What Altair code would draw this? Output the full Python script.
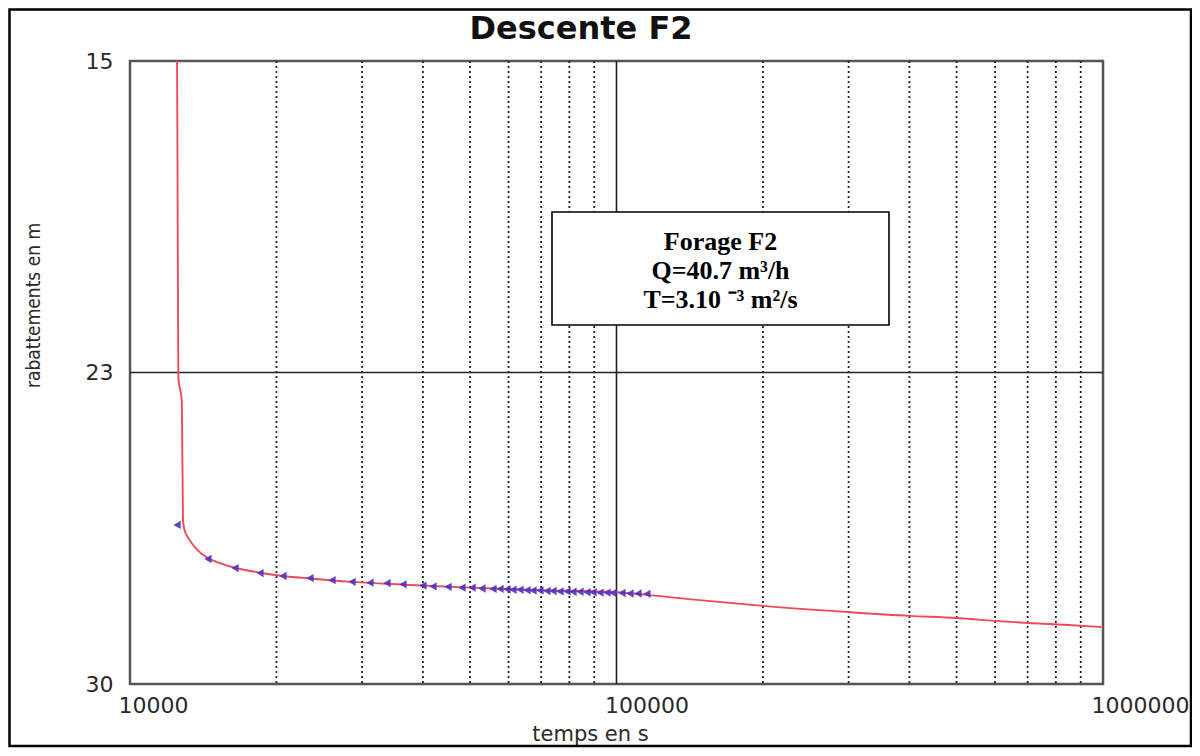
import altair as alt
import pandas as pd

# ---------------- data ----------------
# fitted curve (red): time in s, drawdown in m
curve_t = [12494, 12510, 12570, 12780, 12850, 12950, 13200, 13700, 14463, 15400,
           16438, 18504, 20627, 23442, 28600, 36760, 50000, 70000, 100000, 117000,
           148000, 200000, 300000, 400000, 500000, 600000, 700000, 850000, 1000000]
curve_s = [15.0, 16.3, 22.6, 23.2, 26.05, 26.3, 26.5, 26.75, 26.97, 27.1,
           27.2, 27.32, 27.40, 27.46, 27.54, 27.61, 27.68, 27.74, 27.79, 27.86,
           27.98, 28.12, 28.27, 28.36, 28.41, 28.48, 28.53, 28.58, 28.63]

# observed drawdown (markers)
obs_t = [12494, 14463, 16438, 18504, 20627, 23442, 26015, 28600, 31140, 33760,
         36400, 40000, 41960, 45040, 48120, 50470, 52910, 55740, 57620, 59560,
         61270, 63330, 65460, 67360, 69630, 71960, 74040, 76530, 79110, 81390,
         84140, 86970, 89470, 92500, 95610, 98360, 102640, 106600, 110700, 115500]
obs_s = [26.17, 26.99, 27.21, 27.33, 27.40, 27.45, 27.50, 27.54, 27.56, 27.57,
         27.60, 27.63, 27.65, 27.66, 27.68, 27.68, 27.70, 27.71, 27.71, 27.72,
         27.73, 27.73, 27.74, 27.75, 27.75, 27.76, 27.76, 27.77, 27.77, 27.78,
         27.78, 27.79, 27.79, 27.80, 27.80, 27.81, 27.81, 27.82, 27.82, 27.83]

grid_dotted = [20000, 30000, 40000, 50000, 60000, 70000, 80000, 90000,
               200000, 300000, 400000, 500000, 600000, 700000, 800000, 900000]
grid_solid_x = [100000]
grid_solid_y = [22.5]

x_ticks = [10000, 100000, 1000000]
y_ticks = [15, 22.5, 30]

title_text = "Descente F2"
x_title = "temps en s"
y_title = "rabattements en m"
box_lines = ["Forage F2", "Q=40.7 m³/h", "T=3.10 ⁻³ m²/s"]

# ---------------- chart ----------------
W, H = 973, 623

xs = alt.Scale(type="log", domain=[10000, 1000000], nice=False)
ys = alt.Scale(domain=[15, 30], reverse=True, nice=False, zero=False)

x_axis = alt.Axis(values=x_ticks, format="d", grid=False, ticks=False, tickSize=0,
                  domain=False, labelFont="DejaVu Sans", labelFontSize=22,
                  labelColor="#2a2a2a", labelAlign="left", labelOffset=-12,
                  labelBaseline="top", labelPadding=11, labelFlush=False,
                  labelOverlap=False,
                  title=x_title, titleFont="DejaVu Sans", titleFontSize=21,
                  titleFontWeight="normal", titleColor="#2a2a2a",
                  titleX=460, titleY=50, titleAlign="center", titleBaseline="middle")

y_axis = alt.Axis(values=y_ticks, grid=False, ticks=False, tickSize=0, domain=False,
                  labelExpr="datum.value == 22.5 ? '23' : datum.label",
                  labelFont="DejaVu Sans", labelFontSize=22, labelColor="#2a2a2a",
                  labelPadding=17, labelBaseline="middle", labelFlush=False,
                  labelOverlap=False,
                  title=y_title, titleFont="Liberation Sans Narrow, DejaVu Sans Condensed, Liberation Sans",
                  titleFontSize=19, titleFontWeight="normal", titleColor="#2a2a2a",
                  titleAngle=270, titleX=-97, titleY=244, titleAlign="center",
                  titleBaseline="middle")

X = lambda: alt.X("t:Q", scale=xs, axis=x_axis)
Y = lambda: alt.Y("s:Q", scale=ys, axis=y_axis)

one = pd.DataFrame({"k": [0]})

frame = alt.Chart(one).mark_rect(fill="transparent", stroke="black", strokeWidth=2.5).encode(
    x=alt.value(-120.5), x2=alt.value(1061), y=alt.value(-51.5), y2=alt.value(685))

dotted = alt.Chart(pd.DataFrame({"t": grid_dotted})).mark_rule(
    color="#222222", strokeWidth=1.8, strokeDash=[2, 3]).encode(x=X())

solid_v = alt.Chart(pd.DataFrame({"t": grid_solid_x})).mark_rule(
    color="#222222", strokeWidth=1.6).encode(x=X())

solid_h = alt.Chart(pd.DataFrame({"s": grid_solid_y})).mark_rule(
    color="#222222", strokeWidth=1.6).encode(y=Y())

curve = alt.Chart(pd.DataFrame({"t": curve_t, "s": curve_s})).mark_line(
    color="#ee4a5a", strokeWidth=1.9, interpolate="monotone").encode(
    x=X(), y=Y(), order=alt.Order("t:Q"))

points = alt.Chart(pd.DataFrame({"t": obs_t, "s": obs_s})).mark_point(
    shape="triangle-left", filled=True, color="#5030c0", size=70, opacity=0.9).encode(
    x=X(), y=Y())

box = alt.Chart(one).mark_rect(fill="white", stroke="black", strokeWidth=1.6).encode(
    x=alt.value(422), x2=alt.value(759), y=alt.value(151), y2=alt.value(264))

box_text = alt.Chart(one).mark_text(
    text=box_lines, font="Liberation Serif", fontSize=26, fontWeight="bold",
    color="black", align="center", baseline="middle", lineHeight=29).encode(
    x=alt.value(590.5), y=alt.value(181))

title = alt.Chart(one).mark_text(
    text=title_text, font="DejaVu Sans", fontSize=32, fontWeight="bold",
    color="#111111", align="center", baseline="middle").encode(
    x=alt.value(451), y=alt.value(-32))

chart = alt.layer(frame, dotted, solid_v, solid_h, curve, points, box, box_text, title).properties(
    width=W, height=H,
    autosize=alt.AutoSizeParams(type="none"),
    padding={"left": 122, "top": 53, "right": 89, "bottom": 64},
    background="white",
).configure_view(stroke="#555555", strokeWidth=2.5)

chart.save("out.html", embed_options={"renderer": "svg", "actions": False})
